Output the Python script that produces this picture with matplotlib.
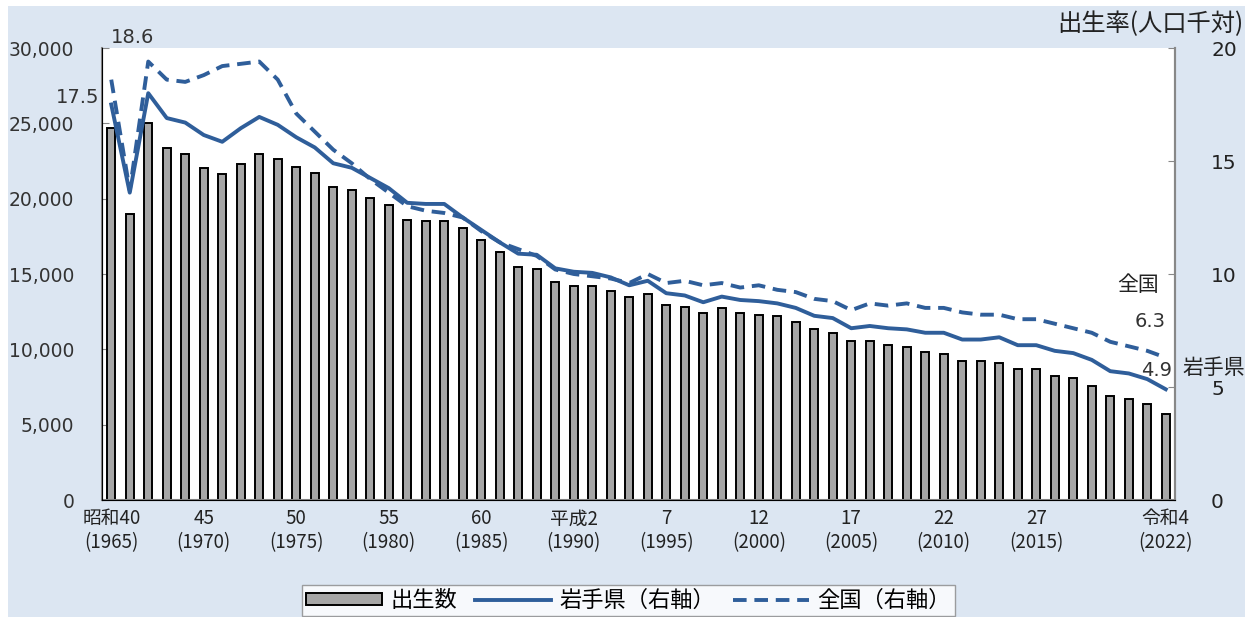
import matplotlib
matplotlib.use('Agg')
import matplotlib.pyplot as plt
from matplotlib.patches import Rectangle

plt.rcParams['font.family'] = ['DejaVu Sans', 'Noto Sans CJK JP']

years = list(range(1965, 2023))
births = [24700, 19000, 25000, 23350, 22950, 22030, 21640, 22300, 22950, 22630,
          22100, 21700, 20780, 20580, 20050, 19580, 18600, 18520, 18520, 18050,
          17260, 16460, 15470, 15330, 14470, 14200, 14200, 13870, 13470, 13670,
          12940, 12810, 12410, 12740, 12410, 12280, 12210, 11810, 11350, 11080,
          10550, 10550, 10290, 10160, 9820, 9690, 9230, 9230, 9090, 8700,
          8700, 8230, 8100, 7570, 6900, 6700, 6370, 5710]
iwate = [17.5, 13.6, 18.0, 16.9, 16.7, 16.15, 15.85, 16.45, 16.95, 16.6,
         16.05, 15.6, 14.9, 14.7, 14.25, 13.8, 13.15, 13.1, 13.1, 12.5,
         11.95, 11.4, 10.9, 10.85, 10.25, 10.1, 10.05, 9.85, 9.5, 9.7,
         9.15, 9.05, 8.75, 9.0, 8.85, 8.8, 8.7, 8.5, 8.15, 8.05,
         7.6, 7.7, 7.6, 7.55, 7.4, 7.4, 7.1, 7.1, 7.2, 6.85,
         6.85, 6.6, 6.5, 6.2, 5.7, 5.6, 5.35, 4.9]
national = [18.6, 13.7, 19.4, 18.6, 18.5, 18.8, 19.2, 19.3, 19.4, 18.6,
            17.1, 16.3, 15.5, 14.9, 14.2, 13.6, 13.0, 12.8, 12.7, 12.5,
            11.9, 11.4, 11.1, 10.8, 10.2, 10.0, 9.9, 9.8, 9.6, 10.0,
            9.6, 9.7, 9.5, 9.6, 9.4, 9.5, 9.3, 9.2, 8.9, 8.8,
            8.4, 8.7, 8.6, 8.7, 8.5, 8.5, 8.3, 8.2, 8.2, 8.0,
            8.0, 7.8, 7.6, 7.4, 7.0, 6.8, 6.6, 6.3]

tick_years = [1965, 1970, 1975, 1980, 1985, 1990, 1995, 2000, 2005, 2010, 2015, 2022]
tick_labels = ['昭和40\n(1965)', '45\n(1970)', '50\n(1975)', '55\n(1980)', '60\n(1985)',
               '平成2\n(1990)', '7\n(1995)', '12\n(2000)', '17\n(2005)', '22\n(2010)',
               '27\n(2015)', '令和4\n(2022)']

blue = '#2f5e9a'
W, H = 1257, 617

fig = plt.figure(figsize=(W / 100, H / 100), dpi=100, facecolor='white')
bg = Rectangle((8 / W, 0), (1245 - 8) / W, (H - 6) / H, transform=fig.transFigure,
               facecolor='#dce6f2', edgecolor='none', zorder=-10)
fig.patches.append(bg)

ax = fig.add_axes([102 / W, (H - 500) / H, 1073 / W, 452 / H])
ax.set_facecolor('white')
x = list(range(len(years)))
bars = ax.bar(x, births, width=0.45, color='#a6a6a6', edgecolor='black', linewidth=1.4,
              label='出生数', zorder=2)
ax.set_xlim(-0.5, len(years) - 0.5)
ax.set_ylim(0, 30000)
ax.set_yticks(range(0, 30001, 5000))
ax.set_yticklabels([f'{v:,}' for v in range(0, 30001, 5000)], fontsize=13.5, color='#333333')
ax.set_xticks([years.index(y) for y in tick_years])
ax.set_xticklabels(tick_labels, fontsize=13.5, family=['Noto Sans CJK JP'], linespacing=1.2,
                   color='#222222')
ax.tick_params(axis='x', length=0, pad=6)
ax.tick_params(axis='y', direction='in', length=5, color='#888888', pad=20)
ax.spines['top'].set_visible(False)
for s in ['left', 'bottom', 'right']:
    ax.spines[s].set_color('#888888')
    ax.spines[s].set_linewidth(1.5)

ax2 = ax.twinx()
ax2.set_ylim(0, 20)
ax2.set_yticks([0, 5, 10, 15, 20])
ax2.tick_params(axis='y', direction='in', length=5, color='#888888', labelsize=14.5, pad=26,
                labelcolor='#222222')
ax2.spines['top'].set_visible(False)
ax2.spines['right'].set_color('#888888')
ax2.spines['right'].set_linewidth(1.5)
l1, = ax2.plot(x, iwate, color=blue, lw=2.8, label='岩手県（右軸）', zorder=3)
l2, = ax2.plot(x, national, color=blue, lw=2.8, ls=(0, (3.5, 2)), label='全国（右軸）', zorder=3)

ann = dict(textcoords='offset pixels', ha='center', va='center', fontsize=14, color='#333333')
ax2.annotate('18.6', (0, national[0]), xytext=(21, 42), **ann)
ax2.annotate('17.5', (0, iwate[0]), xytext=(-34, 7), **ann)
ax2.annotate('6.3', (len(x) - 1, national[-1]), xytext=(-16, 36), **ann)
ax2.annotate('4.9', (len(x) - 1, iwate[-1]), xytext=(-9, 19), **ann)
jp = dict(textcoords='offset pixels', ha='center', va='center', fontsize=15, color='#222222',
          family=['Noto Sans CJK JP'], annotation_clip=False)
ax2.annotate('全国', (len(x) - 1, national[-1]), xytext=(-28, 73), **jp)
ax2.annotate('岩手県', (len(x) - 1, iwate[-1]), xytext=(48, 21), **jp)

t = fig.text(1057 / W, 1 - 24 / H, '出生率(人口千対)', ha='left', va='center', fontsize=17.5,
             family=['Noto Sans CJK JP'], color='#222222')
t.set_clip_path(bg)

leg = fig.legend([bars, l1, l2], ['出生数', '岩手県（右軸）', '全国（右軸）'],
                 loc='center', bbox_to_anchor=(628.5 / W, 16.5 / H), ncol=3,
                 frameon=True, fancybox=False, edgecolor='#888888', handlelength=3.4,
                 handleheight=0.5, columnspacing=0.8, borderpad=0.2, handletextpad=0.4,
                 prop={'family': ['Noto Sans CJK JP'], 'size': 16})
leg.get_frame().set_linewidth(1.0)

fig.savefig('out.png', dpi=100, facecolor=fig.get_facecolor())
